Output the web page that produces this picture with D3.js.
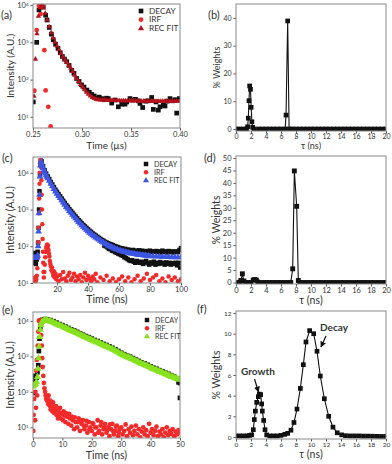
<!DOCTYPE html>
<html><head><meta charset="utf-8">
<script src="https://cdn.jsdelivr.net/npm/d3@7"></script>
<style>body{margin:0;background:#fff}svg{display:block}text{font-family:Lato,"Open Sans",sans-serif;fill:#333}</style>
</head><body><svg id="c" width="392" height="464"></svg>
<script>
// ---------- DATA ([x, value]; log panels store log10 intensity) ----------
const aDecay=[[0.2503,1.40],[0.2538,3.00],[0.2561,3.87],[0.2589,3.98],[0.2605,3.95],[0.2629,3.73],[0.2643,3.60],[0.2666,3.40],[0.2688,3.22],[0.2707,3.07],[0.2730,2.95],[0.2755,2.84],[0.2778,2.72],[0.2800,2.62],[0.2822,2.55],[0.2844,2.48],[0.2868,2.38],[0.2895,2.25],[0.2918,2.17],[0.2946,2.03],[0.2970,1.95],[0.2995,1.86],[0.3020,1.80],[0.3050,1.72],[0.3075,1.66],[0.3100,1.60],[0.3125,1.56],[0.3150,1.50],[0.3175,1.53],[0.3200,1.49],[0.3225,1.46],[0.3250,1.50],[0.3268,1.49],[0.3303,1.37],[0.3335,1.45],[0.3371,1.27],[0.3405,1.34],[0.3439,1.34],[0.3456,1.40],[0.3490,1.49],[0.3517,1.45],[0.3545,1.47],[0.3575,1.43],[0.3592,1.36],[0.3619,1.25],[0.3650,1.42],[0.3677,1.43],[0.3711,1.52],[0.3728,1.20],[0.3755,1.40],[0.3779,1.18],[0.3796,1.27],[0.3830,1.31],[0.3847,1.29],[0.3870,1.42],[0.3898,1.49],[0.3926,1.43],[0.3950,1.46],[0.3966,1.10],[0.3993,1.49]];
const aIrf=[[0.2514,1.70],[0.2538,3.33],[0.2561,3.98],[0.2578,3.76],[0.2595,3.98],[0.2616,2.79],[0.2629,1.71],[0.2656,1.27],[0.2680,0.74]];
const aFit=[[0.2510,1.55],[0.2525,2.55],[0.2540,3.23],[0.2555,3.70],[0.2570,3.93],[0.2585,4.00],[0.2605,3.92],[0.2625,3.78],[0.2645,3.60],[0.2665,3.42],[0.2685,3.26],[0.2705,3.12],[0.2725,3.00],[0.2745,2.90],[0.2765,2.80],[0.2785,2.70],[0.2805,2.61],[0.2825,2.53],[0.2845,2.46],[0.2865,2.38],[0.2885,2.31],[0.2905,2.22],[0.2925,2.12],[0.2945,2.03],[0.2965,1.95],[0.2985,1.87],[0.3005,1.80],[0.3025,1.73],[0.3045,1.66],[0.3065,1.61],[0.3085,1.56],[0.3105,1.52],[0.3125,1.49],[0.3145,1.47],[0.3165,1.46],[0.3185,1.45],[0.3205,1.45],[0.3225,1.45],[0.3245,1.45],[0.3265,1.44],[0.3285,1.44],[0.3305,1.44],[0.3325,1.44],[0.3345,1.44],[0.3365,1.44],[0.3385,1.43],[0.3405,1.43],[0.3425,1.43],[0.3445,1.43],[0.3465,1.43],[0.3485,1.43],[0.3505,1.43],[0.3525,1.43],[0.3545,1.43],[0.3565,1.43],[0.3585,1.42],[0.3605,1.42],[0.3625,1.42],[0.3645,1.42],[0.3665,1.42],[0.3685,1.42],[0.3705,1.42],[0.3725,1.42],[0.3745,1.42],[0.3765,1.42],[0.3785,1.42],[0.3805,1.42],[0.3825,1.42],[0.3845,1.42],[0.3865,1.42],[0.3885,1.42],[0.3905,1.42],[0.3925,1.42],[0.3945,1.42],[0.3965,1.42],[0.3985,1.42]];

const bWeights=[[0,0],[0.5,0],[1,0],[1.4,0],[1.55,0.8],[1.64,3.9],[1.73,10.2],[1.82,15.5],[1.93,14.3],[2.02,7.8],[2.12,2.6],[2.22,0.6],[2.4,0],[3,0],[3.5,0],[4,0],[4.5,0],[5,0],[5.5,0],[6,0],[6.55,0],[6.67,5.0],[6.89,38.9],[7.08,0],[7.5,0],[8,0],[8.5,0],[9,0],[9.5,0],[10,0],[10.5,0],[11,0],[11.5,0],[12,0],[12.5,0],[13,0],[13.5,0],[14,0],[14.5,0],[15,0],[15.5,0],[16,0],[16.5,0],[17,0],[17.5,0],[18,0],[18.5,0],[19,0],[19.5,0],[20,0]];

const cDecay=[[4.5,1.60],[4.8,1.78],[5.1,1.55],[5.4,1.82],[5.7,1.62],[6.0,1.75],[6.3,1.52],[6.6,1.80],[6.9,1.64],[7.2,1.72],[7.5,1.85],[7.8,2.1],[8.1,2.5],[8.4,3.0],[8.7,3.5],[9.0,3.95],[9.3,4.25],[9.6,4.33],[10,4.31],[11,4.18],[12,4.07],[13,3.98],[14,3.90],[15,3.83],[16,3.75],[17,3.68],[18,3.61],[19,3.54],[20,3.48],[21,3.42],[22,3.36],[23,3.30],[24,3.24],[25,3.18],[26,3.12],[27,3.07],[28,3.01],[29,2.96],[30,2.91],[31,2.86],[32,2.81],[33,2.76],[34,2.71],[35,2.67],[36,2.62],[37,2.58],[38,2.54],[39,2.50],[40,2.46],[41,2.42],[42,2.39],[43,2.35],[44,2.32],[45,2.29],[46,2.26],[47,2.23],[48,2.20],[49,2.17],[50,2.15],[50.5,2.02],[51,2.12],[51.5,2.00],[52,2.10],[52.5,1.97],[53,2.08],[53.5,1.93],[54,2.06],[54.5,1.92],[55,2.05],[55.5,1.88],[56,2.03],[56.5,1.87],[57,2.01],[57.5,1.84],[58,1.99],[58.5,1.82],[59,1.98],[59.5,1.80],[60,1.96],[60.5,1.78],[61,1.95],[61.5,1.76],[62,1.94],[62.5,1.74],[63,1.92],[63.5,1.70],[64,1.93],[64.5,1.68],[65,1.90],[65.5,1.65],[66,1.91],[66.5,1.62],[67,1.89],[67.5,1.60],[68,1.88],[68.5,1.62],[69,1.90],[69.5,1.58],[70,1.87],[70.5,1.55],[71,1.88],[71.5,1.60],[72,1.86],[72.5,1.57],[73,1.89],[73.5,1.55],[74,1.85],[74.5,1.58],[75,1.88],[75.5,1.52],[76,1.86],[76.5,1.56],[77,1.84],[77.5,1.60],[78,1.87],[78.5,1.54],[79,1.85],[79.5,1.50],[80,1.88],[80.5,1.56],[81,1.84],[81.5,1.53],[82,1.86],[82.5,1.58],[83,1.85],[83.5,1.50],[84,1.87],[84.5,1.55],[85,1.84],[85.5,1.52],[86,1.86],[86.5,1.57],[87,1.83],[87.5,1.53],[88,1.88],[88.5,1.55],[89,1.84],[89.5,1.50],[90,1.86],[90.5,1.56],[91,1.83],[91.5,1.52],[92,1.87],[92.5,1.55],[93,1.84],[93.5,1.50],[94,1.86],[94.5,1.54],[95,1.83],[95.5,1.52],[96,1.85],[96.5,1.55],[97,1.86],[97.5,1.48],[98,1.84],[98.5,1.55],[99,1.90],[99.5,1.42],[100,1.95]];
const cIrf=[[4.6,1.05],[5.0,1.12],[5.4,1.02],[5.8,1.15],[6.2,1.05],[6.6,1.10],[7.0,1.2],[7.3,1.4],[7.6,1.7],[7.9,2.1],[8.1,2.5],[8.3,2.9],[8.5,3.3],[8.7,3.7],[8.9,4.0],[9.1,4.25],[9.3,4.35],[9.5,4.32],[9.7,4.15],[9.9,3.8],[10.1,3.4],[10.3,3.0],[10.5,2.6],[10.7,2.2],[10.9,1.85],[11.1,1.55],[11.3,1.3],[11.5,1.15],[11.8,1.3],[12.1,1.5],[12.4,1.7],[12.7,1.85],[13.0,1.95],[13.3,2.0],[13.6,2.05],[13.9,1.98],[14.2,2.02],[14.5,1.9],[14.8,1.8],[15.1,1.72],[15.4,1.6],[15.7,1.52],[16.0,1.45],[16.4,1.35],[16.8,1.42],[17.2,1.28],[17.6,1.2],[18,1.32],[18.5,1.15],[19,1.25],[19.5,1.1],[20,1.18],[21,1.05],[22,1.22],[23,1.1],[24,1.3],[25,1.12],[26,1.05],[27,1.2],[28,1.28],[29,1.08],[30,1.15],[31,1.25],[32,1.05],[33,1.18],[34,1.1],[35,1.22],[36,1.02],[37,1.15],[38,1.28],[39,1.08],[40,1.2],[41,1.12],[42,1.05],[43,1.18],[44,1.1],[45,1.25],[46,1.02],[48,1.15],[50,1.08],[52,1.2],[54,1.05],[56,1.12],[58,1.02],[60,1.1],[62,1.18],[64,1.05],[66,1.15],[68,1.02],[70,1.1],[72,1.2],[74,1.05],[76,1.12],[78,1.25],[80,1.08],[82,1.15],[84,1.22],[86,1.05],[88,1.12],[90,1.02],[92,1.18],[94,1.08],[96,1.15],[98,1.05],[100,1.1]];
const cFit=[[4.5,1.68],[5,1.68],[5.5,1.68],[6,1.68],[6.5,1.68],[7,1.69],[7.5,1.75],[7.8,2.0],[8.1,2.4],[8.4,2.9],[8.7,3.4],[9.0,3.9],[9.3,4.2],[9.6,4.3],[10,4.26],[10.5,4.19],[11,4.13],[11.5,4.07],[12,4.02],[12.5,3.98],[13,3.93],[13.5,3.89],[14,3.85],[15,3.78],[16,3.70],[17,3.63],[18,3.56],[19,3.49],[20,3.43],[21,3.37],[22,3.31],[23,3.25],[24,3.19],[25,3.13],[26,3.07],[27,3.02],[28,2.96],[29,2.91],[30,2.86],[31,2.81],[32,2.76],[33,2.71],[34,2.66],[35,2.62],[36,2.57],[37,2.53],[38,2.49],[39,2.45],[40,2.41],[41,2.37],[42,2.34],[43,2.30],[44,2.27],[45,2.24],[46,2.21],[47,2.18],[48,2.15],[49,2.12],[50,2.10],[51,2.07],[52,2.05],[53,2.02],[54,2.00],[55,1.98],[56,1.96],[57,1.94],[58,1.92],[59,1.91],[60,1.89],[61,1.88],[62,1.86],[63,1.85],[64,1.84],[65,1.83],[66,1.82],[67,1.81],[68,1.80],[69,1.80],[70,1.79],[71,1.78],[72,1.77],[73,1.77],[74,1.76],[75,1.76],[76,1.75],[77,1.75],[78,1.74],[79,1.74],[80,1.73],[82,1.73],[84,1.72],[86,1.72],[88,1.71],[90,1.71],[92,1.71],[94,1.70],[96,1.70],[98,1.70],[100,1.70]];

const dWeights=[[0,0],[0.5,0.1],[0.65,0.8],[0.85,3.5],[1.05,0.6],[1.3,0],[1.5,0],[2,0],[2.3,1.0],[2.5,1.2],[2.7,1.0],[2.9,0.2],[3.5,0],[4,0],[4.5,0],[5,0],[5.5,0],[6,0],[6.5,0],[7,0],[7.3,0],[7.56,5.5],[7.78,44.8],[8.09,30.6],[8.31,0.8],[8.5,0],[9,0],[9.5,0],[10,0],[10.5,0],[11,0],[11.5,0],[12,0],[12.5,0],[13,0],[13.5,0],[14,0],[14.5,0],[15,0],[15.5,0],[16,0],[16.5,0],[17,0],[17.5,0],[18,0],[18.5,0],[19,0],[19.5,0],[20,0]];

const eDecay=[[0,1.97],[0.05,2.30],[0.1,2.45],[0.3,2.38],[0.6,2.42],[0.9,2.35],[1.2,2.40],[1.5,2.55],[1.8,2.75],[2.0,3.15],[2.2,3.5],[2.5,3.82],[2.8,3.96],[3.2,4.03],[4,4.05],[5,4.04],[6,4.02],[7,3.99],[8,3.95],[9,3.91],[10,3.88],[11,3.84],[12,3.80],[13,3.76],[14,3.73],[15,3.69],[16,3.65],[17,3.61],[18,3.57],[19,3.54],[20,3.50],[21,3.46],[22,3.43],[23,3.39],[24,3.35],[25,3.32],[26,3.28],[27,3.24],[28,3.20],[29,3.15],[30,3.10],[31,3.06],[32,3.02],[33,2.99],[34,2.95],[35,2.91],[36,2.87],[37,2.83],[38,2.80],[39,2.76],[40,2.72],[41,2.68],[42,2.65],[43,2.61],[44,2.58],[45,2.54],[46,2.51],[47,2.47],[48,2.43],[49,2.38],[49.5,2.27],[50,2.25],[50,1.83]];
const eIrf=[[0.1,0.9],[0.2,1.35],[0.4,1.8],[0.5,2.2],[0.7,1.2],[0.8,2.0],[1.0,1.55],[1.1,2.6],[1.3,2.9],[1.4,1.9],[1.6,3.3],[1.8,3.7],[2.0,4.0],[2.2,4.02],[2.4,4.0],[2.6,3.9],[2.8,3.6],[3.0,3.3],[3.1,2.95],[3.3,2.7],[3.5,2.45],[3.7,2.25],[3.9,2.1],[4.1,2.0],[4.3,1.9],[4.5,1.8],[4.8,1.75],[5.0,1.85],[5.2,1.65],[5.3,1.9],[5.5,1.7],[5.8,1.6],[5.9,1.75],[6.0,1.5],[6.3,1.62],[6.6,1.45],[6.8,1.7],[7.0,1.55],[7.3,1.4],[7.6,1.5],[7.8,1.6],[8.0,1.35],[8.3,1.48],[8.5,1.25],[8.7,1.3],[9.0,1.42],[9.2,1.55],[9.4,1.25],[9.8,1.38],[10.2,1.2],[10.4,1.45],[10.6,1.33],[11,1.15],[11.2,1.4],[11.5,1.3],[12,1.1],[12.3,1.38],[12.5,1.25],[13,1.05],[13.2,1.3],[13.5,1.2],[14,0.95],[14.2,1.28],[14.5,1.15],[15,1.0],[15.2,1.15],[15.5,1.25],[16,0.9],[16.2,1.2],[16.5,1.1],[17,1.2],[17.2,1.05],[17.5,0.95],[18,1.05],[18.2,1.18],[18.5,0.85],[19,1.15],[19.2,0.95],[19.5,1.0],[20,0.9],[20.2,1.12],[20.5,1.1],[21,0.8],[21.2,1.0],[21.5,1.0],[22,1.2],[22.2,0.85],[22.5,0.9],[23,1.05],[23.2,1.15],[23.5,0.8],[24,0.95],[24.2,1.0],[24.5,1.1],[25,0.85],[25.2,0.92],[25.5,1.0],[26,0.75],[26.2,1.08],[26.5,0.95],[27,1.1],[27.2,0.9],[27.5,0.8],[28,0.9],[28.2,1.02],[28.5,1.05],[29,0.75],[29.2,0.85],[29.5,0.95],[30,1.0],[30.5,0.8],[31,0.9],[31.5,1.08],[32,0.75],[32.5,0.95],[33,0.85],[33.5,1.02],[34,0.78],[34.5,0.9],[35,1.05],[35.5,0.8],[36,0.95],[36.5,0.72],[37,0.88],[37.5,1.0],[38,0.8],[38.5,0.92],[39,0.75],[39.5,1.1],[40,0.85],[40.5,0.95],[41,0.78],[41.5,0.9],[42,1.02],[42.5,0.75],[43,0.88],[43.5,0.8],[44,0.95],[44.5,0.72],[45,0.85],[45.5,1.0],[46,0.78],[46.5,0.9],[47,0.82],[47.5,0.95],[48,0.75],[48.5,0.88],[49,0.8],[49.5,0.92],[50,0.85]];
const eFit=[[0,2.15],[0.3,2.18],[0.6,2.2],[0.9,2.22],[1.2,2.28],[1.5,2.42],[1.7,2.65],[1.9,2.95],[2.1,3.28],[2.3,3.55],[2.5,3.75],[2.7,3.88],[3.0,3.97],[3.5,4.01],[4,4.02],[4.5,4.02],[5,4.01],[5.5,4.00],[6,3.98],[6.5,3.97],[7,3.95],[7.5,3.93],[8,3.91],[8.5,3.89],[9,3.87],[9.5,3.86],[10,3.84],[10.5,3.82],[11,3.80],[11.5,3.78],[12,3.76],[12.5,3.74],[13,3.72],[13.5,3.70],[14,3.69],[14.5,3.67],[15,3.65],[15.5,3.63],[16,3.61],[16.5,3.59],[17,3.57],[17.5,3.55],[18,3.53],[18.5,3.51],[19,3.50],[19.5,3.48],[20,3.46],[20.5,3.44],[21,3.42],[21.5,3.40],[22,3.39],[22.5,3.37],[23,3.35],[23.5,3.33],[24,3.31],[24.5,3.29],[25,3.28],[25.5,3.26],[26,3.24],[26.5,3.22],[27,3.20],[27.5,3.18],[28,3.16],[28.5,3.13],[29,3.11],[29.5,3.08],[30,3.06],[30.5,3.04],[31,3.02],[31.5,3.00],[32,2.98],[32.5,2.97],[33,2.95],[33.5,2.93],[34,2.91],[34.5,2.89],[35,2.87],[35.5,2.85],[36,2.83],[36.5,2.81],[37,2.79],[37.5,2.78],[38,2.76],[38.5,2.74],[39,2.72],[39.5,2.70],[40,2.68],[40.5,2.66],[41,2.64],[41.5,2.63],[42,2.61],[42.5,2.59],[43,2.57],[43.5,2.56],[44,2.54],[44.5,2.52],[45,2.50],[45.5,2.49],[46,2.47],[46.5,2.45],[47,2.43],[47.5,2.42],[48,2.40],[48.5,2.38],[49,2.37],[49.5,2.35],[50,2.34]];

const fWeights=[[0,0.1],[0.5,0.1],[1,0.1],[1.5,0.1],[1.8,0.15],[2.09,0.2],[2.31,0.7],[2.44,1.68],[2.58,2.5],[2.76,3.35],[2.98,3.9],[3.11,4.15],[3.29,4.1],[3.42,3.2],[3.51,2.5],[3.69,1.6],[3.87,0.7],[4.09,0.2],[4.5,0.1],[5,0.1],[5.5,0.1],[6,0.15],[6.5,0.25],[6.89,0.35],[7.33,0.65],[7.73,1.4],[8.13,2.7],[8.58,4.7],[8.98,7.0],[9.33,9.2],[9.82,10.3],[10.36,10.0],[10.8,8.3],[11.24,5.9],[11.78,3.7],[12.36,2.0],[12.93,0.95],[13.5,0.4],[14.09,0.2],[14.6,0.12],[15.2,0.1],[15.8,0.1],[16.4,0.1],[17,0.08],[17.6,0.08],[18.2,0.07],[18.8,0.06],[19.4,0.05],[20,0.05]];

const legendNames=["DECAY","IRF","REC FIT"];
const logTicksY=[1,2,3,4];
const aXTicks=[0.25,0.30,0.35,0.40];
const cXTicks=[20,40,60,80,100];
const eXTicks=[0,10,20,30,40,50];
const tauTicks=[0,2,4,6,8,10,12,14,16,18,20];
const bYTicks=[0,10,20,30,40];
const dYTicks=[0,5,10,15,20,25,30,35,40,45,50];
const fYTicks=[0,2,4,6,8,10,12];

// ---------- DRAWING ----------
const svg=d3.select("#c");
const RED="#f42a2a", BLACK="#111", BLUE="#3d55e3", GREEN="#86e31e", DRED="#b3121c";
let clipN=0;
function panel(box,xDom,yDom,isLog){
  const x=d3.scaleLinear().domain(xDom).range([box.l,box.r]);
  const y=isLog?d3.scaleLog().domain(yDom.map(v=>Math.pow(10,v))).range([box.b,box.t])
               :d3.scaleLinear().domain(yDom).range([box.b,box.t]);
  const id="clip"+(clipN++);
  svg.append("clipPath").attr("id",id).append("rect")
     .attr("x",box.l).attr("y",box.t).attr("width",box.r-box.l).attr("height",box.b-box.t);
  const g=svg.append("g");
  const plot=g.append("g").attr("clip-path",`url(#${id})`);
  return {x,y,g,plot,box,isLog,yv:v=>isLog?Math.pow(10,v):v};
}
function scatter(P,data,type,size,color){
  const sym=d3.symbol().type(type).size(size);
  P.plot.append("g").selectAll("path").data(data).join("path").attr("d",sym)
    .attr("transform",d=>`translate(${P.x(d[0])},${P.y(P.yv(d[1]))})`).attr("fill",color);
}
function lineSeries(P,data){
  P.plot.append("path").datum(data)
   .attr("d",d3.line().x(d=>P.x(d[0])).y(d=>P.y(P.yv(d[1]))))
   .attr("fill","none").attr("stroke","#111").attr("stroke-width",1.1);
}
function axes(P,o){
  const b=P.box;
  const xa=P.g.append("g").attr("transform",`translate(0,${b.b})`)
    .call(d3.axisBottom(P.x).tickValues(o.xTicks).tickFormat(o.xFmt||(d=>d)).tickSize(2.5).tickPadding(1));
  xa.select(".domain").remove();
  xa.selectAll("line").attr("stroke","#555");
  xa.selectAll("text").attr("font-size",o.tickFs).attr("fill","#333");
  const ya=P.g.append("g").attr("transform",`translate(${b.l},0)`)
    .call(d3.axisLeft(P.y).tickValues(o.yTicks.map(P.yv)).tickSize(2.5).tickPadding(2).tickFormat(d=>d));
  ya.select(".domain").remove();
  ya.selectAll("line").attr("stroke","#555");
  ya.selectAll("text").attr("font-size",o.tickFs).attr("fill","#333");
  if(P.isLog){
    ya.selectAll("text").each(function(d){
      const t=d3.select(this); const e=Math.round(Math.log10(d));
      t.text(null); t.append("tspan").text("10");
      t.append("tspan").attr("dy","-0.45em").attr("font-size",o.tickFs*0.6).text(e);
    });
  }
  P.g.append("rect").attr("x",b.l).attr("y",b.t).attr("width",b.r-b.l).attr("height",b.b-b.t)
    .attr("fill","none").attr("stroke","#8a8a8a").attr("stroke-width",1);
  P.g.append("text").attr("x",(b.l+b.r)/2).attr("y",o.xLabY).attr("text-anchor","middle")
    .attr("font-size",o.labFs).text(o.xLab);
  P.g.append("text").attr("transform",`translate(${o.yLabX},${(b.t+b.b)/2}) rotate(-90)`)
    .attr("text-anchor","middle").attr("font-size",o.labFs).text(o.yLab);
}
function legend(P,x,y,dy,fs,items){
  items.forEach((it,i)=>{
    const sym=d3.symbol().type(it[1]).size(it[2]);
    P.g.append("path").attr("d",sym).attr("transform",`translate(${x},${y+i*dy})`).attr("fill",it[0]);
    P.g.append("text").attr("x",x+8).attr("y",y+i*dy+2.7).attr("font-size",fs).text(legendNames[i]);
  });
}
function tag(x,y,t){svg.append("text").attr("x",x).attr("y",y).attr("font-size",11).text(t);}

// (a)
const A=panel({l:33,r:180,t:4,b:128},[0.25,0.40],[0.70,4.03],true);
scatter(A,aDecay,d3.symbolSquare,22,BLACK);
scatter(A,aIrf,d3.symbolCircle,18,RED);
scatter(A,aFit,d3.symbolTriangle,12,DRED);
axes(A,{xTicks:aXTicks,xFmt:d3.format(".2f"),yTicks:logTicksY,tickFs:7.5,labFs:10,xLab:"Time (µs)",xLabY:149,yLab:"Intensity (A.U.)",yLabX:14});
legend(A,141,11,8.7,8.3,[[BLACK,d3.symbolSquare,22],[RED,d3.symbolCircle,18],[DRED,d3.symbolTriangle,16]]);
tag(1,19,"(a)");

// (b)
const B=panel({l:236,r:386,t:4,b:131},[0,20],[-0.72,45],false);
lineSeries(B,bWeights);
scatter(B,bWeights,d3.symbolSquare,22,BLACK);
axes(B,{xTicks:tauTicks,yTicks:bYTicks,tickFs:7,labFs:9,xLab:"τ (ns)",xLabY:149,yLab:"% Weights",yLabX:220});
tag(208,19,"(b)");

// (c)
const C=panel({l:33,r:181,t:157,b:283},[4.5,100],[1.0,4.43],true);
scatter(C,cDecay,d3.symbolSquare,20,BLACK);
scatter(C,cIrf,d3.symbolCircle,16,RED);
scatter(C,cFit,d3.symbolTriangle,20,BLUE);
axes(C,{xTicks:cXTicks,yTicks:logTicksY,tickFs:7.5,labFs:10.5,xLab:"Time (ns)",xLabY:303,yLab:"Intensity (A.U.)",yLabX:14});
legend(C,146,164,8.3,7.2,[[BLACK,d3.symbolSquare,20],[RED,d3.symbolCircle,16],[BLUE,d3.symbolTriangle,16]]);
tag(2,162,"(c)");

// (d)
const D=panel({l:236,r:386,t:156,b:284},[0,20],[-0.6,50.8],false);
lineSeries(D,dWeights);
scatter(D,dWeights,d3.symbolSquare,24,BLACK);
axes(D,{xTicks:tauTicks,yTicks:dYTicks,tickFs:7.5,labFs:10.5,xLab:"τ (ns)",xLabY:304,yLab:"% Weights",yLabX:220});
tag(204,162,"(d)");

// (e)
const E=panel({l:33,r:180,t:312,b:438},[0,50],[0.70,4.25],true);
scatter(E,eDecay,d3.symbolSquare,22,BLACK);
scatter(E,eIrf,d3.symbolCircle,18,RED);
scatter(E,eFit,d3.symbolTriangle,22,GREEN);
axes(E,{xTicks:eXTicks,yTicks:logTicksY,tickFs:7.5,labFs:10.5,xLab:"Time (ns)",xLabY:459,yLab:"Intensity (A.U.)",yLabX:14});
legend(E,147,320,8.3,7.2,[[BLACK,d3.symbolSquare,20],[RED,d3.symbolCircle,16],[GREEN,d3.symbolTriangle,16]]);
tag(2,314,"(e)");

// (f)
const F=panel({l:236,r:386,t:311,b:439},[0,20],[-0.2,12.2],false);
lineSeries(F,fWeights);
scatter(F,fWeights,d3.symbolSquare,22,BLACK);
axes(F,{xTicks:tauTicks,yTicks:fYTicks,tickFs:6.5,labFs:10.5,xLab:"τ (ns)",xLabY:458,yLab:"% Weights",yLabX:220});
tag(197,313,"(f)");
// annotations
svg.append("defs").append("marker").attr("id","ah").attr("viewBox","0 0 10 10").attr("refX",9).attr("refY",5)
  .attr("markerWidth",5).attr("markerHeight",5).attr("orient","auto")
  .append("path").attr("d","M0,0L10,5L0,10z").attr("fill","#111");
svg.append("text").attr("x",258).attr("y",375).attr("text-anchor","middle").attr("font-size",10).attr("font-weight","bold").attr("fill","#111").text("Growth");
svg.append("line").attr("x1",254.5).attr("y1",379).attr("x2",258.5).attr("y2",392).attr("stroke","#111").attr("stroke-width",1.2).attr("marker-end","url(#ah)");
svg.append("text").attr("x",334).attr("y",331).attr("text-anchor","middle").attr("font-size",10).attr("font-weight","bold").attr("fill","#111").text("Decay");
svg.append("line").attr("x1",326).attr("y1",336).attr("x2",321).attr("y2",347).attr("stroke","#111").attr("stroke-width",1.2).attr("marker-end","url(#ah)");
</script></body></html>
